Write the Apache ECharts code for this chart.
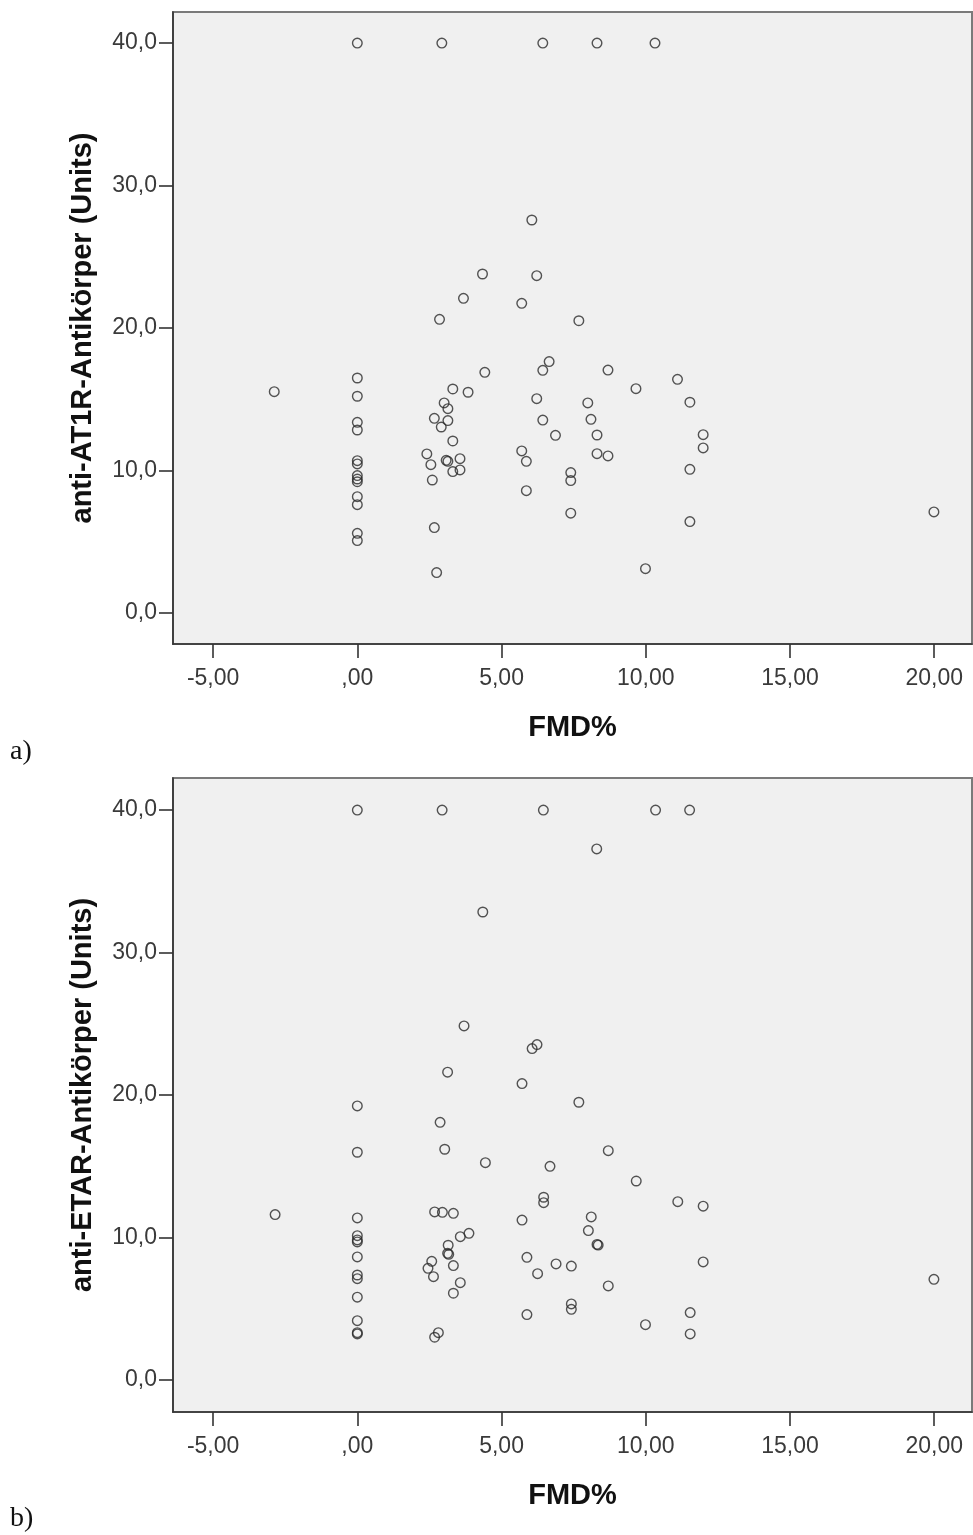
<!DOCTYPE html>
<html>
<head>
<meta charset="utf-8">
<script src="https://cdn.jsdelivr.net/npm/echarts@6/dist/echarts.min.js"></script>
<style>
  html, body { margin: 0; padding: 0; background: #fff; }
  #chart { width: 973px; height: 1535px; }
</style>
</head>
<body>
<div id="chart"></div>
<script>
// panel a) FMD% vs anti-AT1R
const fmdA = [0, 2.93, 6.43, 8.31, 10.32,
  6.05, 4.34, 6.22, 3.68, 5.70, 2.85, 7.68,
  -2.88,
  0, 0, 0, 0, 0, 0, 0, 0, 0, 0, 0, 0, 0,
  4.42, 3.31, 3.84, 3.01, 3.14, 2.67, 3.14, 2.91, 3.31, 2.41, 2.55, 3.08, 3.14, 3.56, 3.31, 3.56, 2.60, 2.67, 2.75,
  5.70, 5.86, 5.86, 6.22, 6.43, 6.65, 6.43, 6.87,
  8.69, 9.66, 11.10, 11.53, 7.99, 8.10, 8.31, 8.31, 8.69, 11.99, 11.99, 11.53, 7.40, 7.40, 7.40, 11.53, 9.99, 19.99]
const antiAT1R = [40, 40, 40, 40, 40,
  27.58, 23.79, 23.67, 22.08, 21.73, 20.61, 20.51,
  15.53,
  16.49, 15.21, 13.38, 12.84, 10.69, 10.46, 9.64, 9.40, 9.21, 8.16, 7.60, 5.59, 5.08,
  16.89, 15.72, 15.49, 14.74, 14.34, 13.66, 13.50, 13.05, 12.07, 11.16, 10.41, 10.71, 10.64, 10.83, 9.92, 10.04, 9.33, 5.99, 2.83,
  11.37, 10.64, 8.58, 15.04, 17.03, 17.64, 13.54, 12.47,
  17.05, 15.74, 16.40, 14.79, 14.74, 13.59, 12.49, 11.18, 11.02, 12.51, 11.58, 10.08, 9.85, 9.29, 7.00, 6.41, 3.11, 7.09]

// panel b) FMD% vs anti-ETAR
const fmdB = [0, 2.94, 6.45, 10.34, 11.52,
  8.30, 4.35, 3.70, 6.23, 6.06, 3.13, 5.71,
  -2.85,
  0, 0, 0, 0, 0, 0, 0, 0, 0, 0, 0, 0, 0,
  2.87, 3.03, 4.44, 6.68, 6.46, 6.46, 2.68, 2.95, 3.33, 5.71, 3.87, 3.57, 3.15, 3.13, 3.17, 5.88, 2.58, 2.45, 3.33, 6.89, 6.25, 2.64, 3.57, 3.33, 5.88, 2.81, 2.68,
  7.68, 8.70, 9.67, 11.11, 11.99, 8.11, 8.01, 8.31, 8.35, 11.99, 7.42, 8.70, 7.42, 7.42, 11.54, 9.99, 11.54, 19.99]
const antiETAR = [40, 40, 40, 40, 40,
  37.27, 32.84, 24.84, 23.53, 23.25, 21.59, 20.79,
  11.59,
  19.22, 15.97, 11.36, 10.11, 9.81, 9.67, 8.62, 7.35, 7.09, 5.79, 4.14, 3.30, 3.21,
  18.07, 16.18, 15.24, 14.98, 12.81, 12.43, 11.78, 11.75, 11.68, 11.21, 10.28, 10.04, 9.44, 8.87, 8.80, 8.59, 8.31, 7.82, 8.01, 8.13, 7.44, 7.23, 6.81, 6.07, 4.57, 3.30, 2.98,
  19.48, 16.08, 13.95, 12.50, 12.18, 11.43, 10.47, 9.50, 9.45, 8.27, 7.98, 6.58, 5.32, 4.94, 4.71, 3.86, 3.21, 7.05]

const xTicks = [-5, 0, 5, 10, 15, 20]
const xTickLabels = ['-5,00', ',00', '5,00', '10,00', '15,00', '20,00']
const yTicks = [0, 10, 20, 30, 40]
const yTickLabels = ['0,0', '10,0', '20,0', '30,0', '40,0']

const zip = (xs, ys) => xs.map((x, i) => [x, ys[i]])

const labelFont = {
  color: '#3a3a3a',
  fontSize: 23,
  fontFamily: 'Liberation Sans, Arial, sans-serif'
}
const titleFont = {
  color: '#111',
  fontSize: 29,
  fontWeight: 'bold',
  fontFamily: 'Liberation Sans, Arial, sans-serif'
}

const makeX = (gridIndex) => ({
  type: 'value',
  gridIndex,
  min: -6.39,
  max: 21.31,
  name: 'FMD%',
  nameLocation: 'middle',
  nameGap: 69,
  nameTextStyle: titleFont,
  axisLine: { onZero: false, lineStyle: { color: '#333', width: 1.6 } },
  axisTick: { show: true, inside: false, customValues: xTicks, length: 14, lineStyle: { color: '#333', width: 1.6 } },
  axisLabel: {
    customValues: xTicks,
    margin: 23,
    ...labelFont,
    formatter: (v) => xTickLabels[xTicks.indexOf(v)]
  },
  splitLine: { show: false }
})

const makeY = (gridIndex, name, min, max) => ({
  type: 'value',
  gridIndex,
  min,
  max,
  name,
  nameLocation: 'middle',
  nameRotate: 90,
  nameGap: 76,
  nameTextStyle: titleFont,
  axisLine: { onZero: false, lineStyle: { color: '#333', width: 1.6 } },
  axisTick: { show: true, inside: false, customValues: yTicks, length: 14, lineStyle: { color: '#333', width: 1.6 } },
  axisLabel: {
    customValues: yTicks,
    margin: 16,
    ...labelFont,
    formatter: (v) => yTickLabels[yTicks.indexOf(v)]
  },
  splitLine: { show: false }
})

const markerStyle = {
  color: 'rgba(0,0,0,0)',
  borderColor: '#2b2b2b',
  borderWidth: 1.4
}

const chart = echarts.init(document.getElementById('chart'), null, { renderer: 'canvas' })

chart.setOption({
  animation: false,
  backgroundColor: '#fff',
  grid: [
    { left: 173, top: 12, width: 799, height: 632, show: true, backgroundColor: '#f0f0f0', borderColor: '#7a7a7a', borderWidth: 2 },
    { left: 173, top: 778, width: 799, height: 634, show: true, backgroundColor: '#f0f0f0', borderColor: '#7a7a7a', borderWidth: 2 }
  ],
  xAxis: [makeX(0), makeX(1)],
  yAxis: [
    makeY(0, 'anti-AT1R-Antikörper (Units)', -2.18, 42.18),
    makeY(1, 'anti-ETAR-Antikörper (Units)', -2.27, 42.25)
  ],
  graphic: [
    { type: 'text', left: 10, top: 738, style: { text: 'a)', fontSize: 28, fontFamily: 'Liberation Serif, serif', fill: '#111' } },
    { type: 'text', left: 10, top: 1505, style: { text: 'b)', fontSize: 28, fontFamily: 'Liberation Serif, serif', fill: '#111' } }
  ],
  series: [
    {
      type: 'scatter',
      xAxisIndex: 0,
      yAxisIndex: 0,
      data: zip(fmdA, antiAT1R),
      symbol: 'circle',
      symbolSize: 9.6,
      itemStyle: markerStyle
    },
    {
      type: 'scatter',
      xAxisIndex: 1,
      yAxisIndex: 1,
      data: zip(fmdB, antiETAR),
      symbol: 'circle',
      symbolSize: 9.6,
      itemStyle: markerStyle
    }
  ]
})
</script>
</body>
</html>
